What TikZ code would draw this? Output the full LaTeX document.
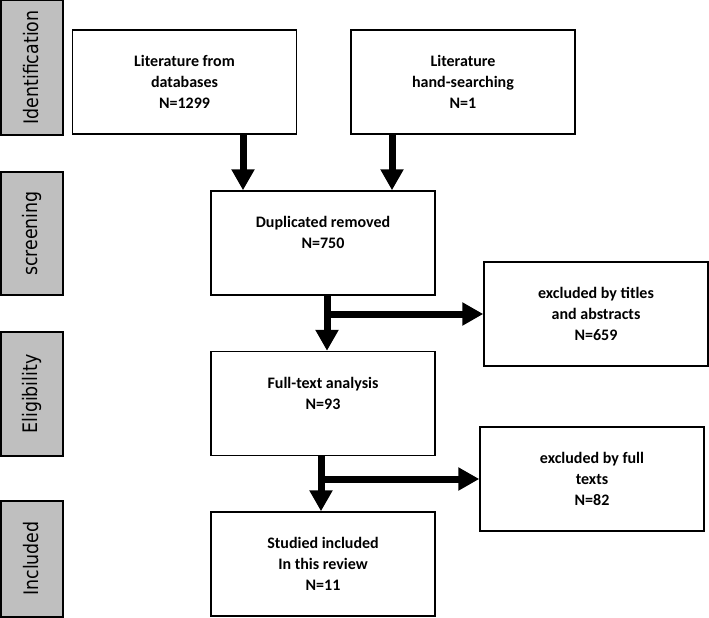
\documentclass[tikz,border=0pt]{standalone}
\usepackage{fontspec}
\setmainfont{Carlito}
\newfontfamily\stagefont{DejaVu Sans}
\usetikzlibrary{arrows.meta}
\definecolor{stagegray}{RGB}{191,191,191}

\begin{document}
\begin{tikzpicture}[x=0.75pt,y=-0.75pt,
    stage/.style={draw=black,line width=1.5pt,fill=stagegray,rotate=90,inner sep=0pt,
      minimum height=46.5pt,font=\stagefont\fontsize{15}{18}\selectfont},
    box/.style={draw=black,line width=1.1pt,fill=white,align=center,
      minimum width=168pt,minimum height=78pt,font=\bfseries\fontsize{12}{15.75}\selectfont},
    flow/.style={line width=5.25pt,-{Triangle[length=15.75pt,width=16.5pt]}}]
  \useasboundingbox (0,0) rectangle (709,617);
  \node[stage,minimum width=100.5pt] (idf) at (31.5,67.5) {\scalebox{0.87}[1]{Identification}};
  \node[stage,minimum width=92.25pt] (scr) at (31.5,233.5) {\scalebox{0.87}[1]{screening}};
  \node[stage,minimum width=93pt] (elg) at (31.5,394) {\scalebox{0.87}[1]{Eligibility}};
  \node[stage,minimum width=87pt] (inc) at (31.5,558.5) {\scalebox{0.87}[1]{Included}};
  \node[box] (dbase) at (184.5,82) {Literature from\\databases\\N=1299};
  \node[box] (hand) at (463,82) {Literature\\hand-searching\\N=1};
  \node[box] (dup) at (323,243) {Duplicated removed\\N=750\\\mbox{}};
  \node[box] (excl1) at (596,314) {excluded by titles\\and abstracts\\N=659};
  \node[box] (ft) at (323,403.5) {Full-text analysis\\N=93\\\mbox{}};
  \node[box] (excl2) at (592,479) {excluded by full\\texts\\N=82};
  \node[box] (stud) at (323,564) {Studied included\\In this review\\N=11};
  \draw[flow] ([xshift=43.875pt]dbase.south) -- ([xshift=43.875pt]dbase.south |- dup.north);
  \draw[flow] ([xshift=-53.25pt]hand.south) -- ([xshift=-53.25pt]hand.south |- dup.north);
  \coordinate (b1) at ([xshift=3pt]dup.south |- excl1.west);
  \draw[flow] ([xshift=3pt]dup.south) -- ([xshift=3pt]dup.south |- ft.north);
  \draw[flow] (b1) -- (excl1.west);
  \coordinate (b2) at ([xshift=-1.5pt]ft.south |- excl2.west);
  \draw[flow] ([xshift=-1.5pt]ft.south) -- ([xshift=-1.5pt]ft.south |- stud.north);
  \draw[flow] (b2) -- (excl2.west);
\end{tikzpicture}
\end{document}
